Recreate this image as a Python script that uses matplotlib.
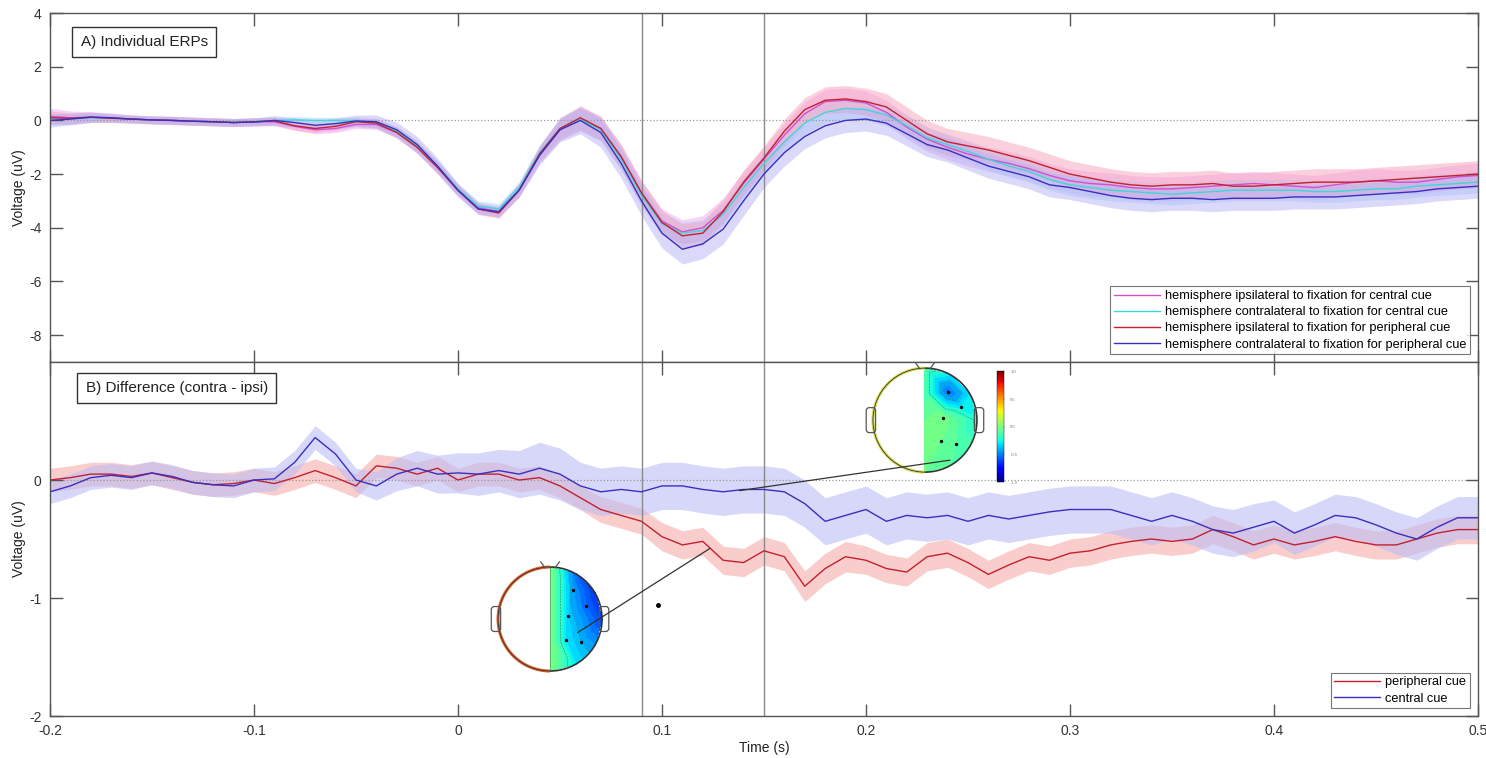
import matplotlib
matplotlib.use("Agg")
import matplotlib.pyplot as plt
import matplotlib.tri as mtri
import numpy as np
from matplotlib.patches import ConnectionPatch, FancyBboxPatch, Arc, Circle
from matplotlib.colors import Normalize

plt.rcParams["font.family"] = ["Liberation Sans", "DejaVu Sans"]
plt.rcParams["axes.unicode_minus"] = False

# time axis, 10 ms steps from -0.2 s to 0.5 s
time_s = np.round(np.arange(-0.2, 0.5001, 0.01), 2)

# A) individual ERPs (uV)
ipsi_central = [0.15, 0.1, 0.12, 0.1, 0.05, 0.02, 0.0, -0.03, -0.05, -0.08,
                -0.05, -0.05, -0.22, -0.35, -0.3, -0.15, -0.15, -0.45, -1.0, -1.75,
                -2.6, -3.25, -3.4, -2.6, -1.3, -0.35, 0.05, -0.3, -1.35, -2.7,
                -3.75, -4.15, -4.0, -3.35, -2.35, -1.45, -0.55, 0.25, 0.7, 0.75,
                0.65, 0.3, -0.25, -0.7, -1.0, -1.25, -1.45, -1.6, -1.8, -2.05,
                -2.25, -2.35, -2.4, -2.5, -2.55, -2.55, -2.5, -2.45, -2.4, -2.35,
                -2.4, -2.45, -2.5, -2.4, -2.3, -2.25, -2.3, -2.3, -2.2, -2.1, -2.05]
contra_central = [0.05, 0.05, 0.1, 0.08, 0.05, 0.02, 0.0, -0.02, -0.05, -0.06,
                  -0.04, 0.0, 0.02, 0.0, 0.0, 0.0, -0.1, -0.4, -0.95, -1.7,
                  -2.55, -3.2, -3.3, -2.5, -1.2, -0.3, 0.05, -0.35, -1.45, -2.8,
                  -3.85, -4.2, -4.1, -3.5, -2.5, -1.6, -0.8, -0.1, 0.3, 0.45,
                  0.4, 0.2, -0.2, -0.65, -0.9, -1.15, -1.45, -1.7, -1.9, -2.2,
                  -2.4, -2.5, -2.6, -2.65, -2.7, -2.75, -2.7, -2.65, -2.6, -2.6,
                  -2.6, -2.6, -2.65, -2.65, -2.6, -2.55, -2.55, -2.45, -2.4, -2.35, -2.3]
ipsi_peripheral = [0.1, 0.08, 0.12, 0.08, 0.05, 0.02, 0.0, -0.03, -0.05, -0.08,
                   -0.05, -0.02, -0.2, -0.3, -0.22, -0.05, -0.1, -0.45, -1.0, -1.75,
                   -2.6, -3.3, -3.45, -2.6, -1.25, -0.3, 0.1, -0.3, -1.35, -2.7,
                   -3.8, -4.3, -4.2, -3.4, -2.3, -1.4, -0.4, 0.4, 0.75, 0.8,
                   0.7, 0.5, 0.0, -0.5, -0.8, -0.95, -1.1, -1.3, -1.5, -1.75,
                   -2.0, -2.15, -2.3, -2.4, -2.45, -2.4, -2.4, -2.35, -2.45, -2.45,
                   -2.4, -2.35, -2.3, -2.3, -2.3, -2.25, -2.2, -2.15, -2.1, -2.05, -2.0]
contra_peripheral = [0.0, 0.05, 0.12, 0.1, 0.05, 0.02, 0.0, -0.03, -0.05, -0.08,
                     -0.06, 0.0, -0.08, -0.18, -0.12, -0.02, -0.05, -0.35, -0.9, -1.7,
                     -2.6, -3.3, -3.4, -2.6, -1.3, -0.35, 0.0, -0.45, -1.6, -3.0,
                     -4.2, -4.8, -4.6, -4.05, -3.0, -2.0, -1.2, -0.6, -0.2, 0.0,
                     0.05, -0.1, -0.5, -0.9, -1.1, -1.4, -1.7, -1.9, -2.1, -2.4,
                     -2.5, -2.65, -2.8, -2.9, -2.95, -2.9, -2.9, -2.95, -2.9, -2.9,
                     -2.9, -2.85, -2.85, -2.85, -2.8, -2.75, -2.7, -2.65, -2.55, -2.5, -2.45]

sem_ipsi_central = [0.3, 0.25, 0.2, 0.15, 0.15, 0.15, 0.15, 0.15, 0.15, 0.15,
                    0.15, 0.15, 0.15, 0.15, 0.15, 0.15, 0.18, 0.2, 0.22, 0.22,
                    0.2, 0.2, 0.2, 0.25, 0.3, 0.4, 0.45, 0.45, 0.45, 0.45,
                    0.45, 0.45, 0.45, 0.45, 0.45, 0.45, 0.45, 0.45, 0.45, 0.45,
                    0.45, 0.45, 0.45, 0.45, 0.45, 0.45, 0.45, 0.45, 0.45, 0.45,
                    0.45, 0.45, 0.45, 0.45, 0.45, 0.45, 0.45, 0.45, 0.45, 0.45,
                    0.45, 0.45, 0.45, 0.45, 0.45, 0.45, 0.45, 0.45, 0.45, 0.45, 0.45]
sem_contra_central = [0.2, 0.18, 0.15, 0.12, 0.12, 0.12, 0.12, 0.12, 0.12, 0.12,
                      0.12, 0.12, 0.12, 0.12, 0.12, 0.12, 0.15, 0.18, 0.2, 0.2,
                      0.2, 0.2, 0.2, 0.22, 0.28, 0.35, 0.4, 0.4, 0.4, 0.4,
                      0.4, 0.4, 0.4, 0.4, 0.4, 0.4, 0.4, 0.4, 0.4, 0.4,
                      0.4, 0.4, 0.4, 0.4, 0.4, 0.4, 0.4, 0.4, 0.4, 0.4,
                      0.4, 0.4, 0.4, 0.4, 0.4, 0.4, 0.4, 0.4, 0.4, 0.4,
                      0.4, 0.4, 0.4, 0.4, 0.4, 0.4, 0.4, 0.4, 0.4, 0.4, 0.4]
sem_ipsi_peripheral = [0.25, 0.2, 0.18, 0.15, 0.15, 0.15, 0.15, 0.15, 0.15, 0.15,
                       0.15, 0.15, 0.15, 0.15, 0.15, 0.15, 0.18, 0.2, 0.22, 0.22,
                       0.2, 0.2, 0.2, 0.25, 0.3, 0.4, 0.45, 0.45, 0.45, 0.45,
                       0.45, 0.45, 0.45, 0.45, 0.45, 0.45, 0.45, 0.45, 0.5, 0.5,
                       0.5, 0.5, 0.5, 0.5, 0.5, 0.5, 0.5, 0.5, 0.5, 0.5,
                       0.5, 0.5, 0.5, 0.5, 0.5, 0.5, 0.5, 0.5, 0.5, 0.5,
                       0.5, 0.5, 0.5, 0.5, 0.5, 0.5, 0.5, 0.5, 0.5, 0.5, 0.5]
sem_contra_peripheral = [0.25, 0.22, 0.2, 0.18, 0.15, 0.15, 0.15, 0.15, 0.15, 0.15,
                         0.15, 0.18, 0.18, 0.18, 0.2, 0.22, 0.25, 0.28, 0.3, 0.3,
                         0.25, 0.2, 0.2, 0.25, 0.35, 0.45, 0.5, 0.55, 0.55, 0.55,
                         0.55, 0.55, 0.55, 0.55, 0.55, 0.5, 0.5, 0.45, 0.45, 0.45,
                         0.45, 0.45, 0.45, 0.45, 0.45, 0.45, 0.45, 0.45, 0.45, 0.45,
                         0.45, 0.45, 0.45, 0.45, 0.45, 0.45, 0.45, 0.45, 0.45, 0.45,
                         0.45, 0.45, 0.45, 0.45, 0.45, 0.45, 0.45, 0.45, 0.45, 0.45, 0.45]

# B) difference waves (contra - ipsi), uV
diff_peripheral = [0.0, 0.02, 0.05, 0.05, 0.03, 0.06, 0.02, -0.02, -0.04, -0.03,
                   0.0, -0.03, 0.02, 0.08, 0.02, -0.05, 0.12, 0.1, 0.05, 0.1,
                   0.0, 0.05, 0.05, 0.0, 0.02, -0.05, -0.15, -0.25, -0.3, -0.35,
                   -0.48, -0.55, -0.52, -0.68, -0.7, -0.6, -0.65, -0.9, -0.75, -0.65,
                   -0.68, -0.75, -0.78, -0.65, -0.62, -0.7, -0.8, -0.72, -0.65, -0.68,
                   -0.62, -0.6, -0.55, -0.52, -0.5, -0.52, -0.5, -0.42, -0.48, -0.55,
                   -0.5, -0.55, -0.52, -0.48, -0.52, -0.55, -0.55, -0.5, -0.45, -0.42, -0.42]
diff_central = [-0.1, -0.05, 0.02, 0.04, 0.02, 0.06, 0.03, -0.02, -0.04, -0.05,
                0.0, 0.01, 0.15, 0.36, 0.22, 0.0, -0.05, 0.05, 0.1, 0.05,
                0.06, 0.05, 0.08, 0.05, 0.1, 0.05, -0.05, -0.1, -0.08, -0.1,
                -0.05, -0.05, -0.08, -0.1, -0.08, -0.08, -0.1, -0.2, -0.35, -0.3,
                -0.25, -0.35, -0.3, -0.32, -0.3, -0.35, -0.3, -0.33, -0.3, -0.27,
                -0.25, -0.25, -0.25, -0.3, -0.35, -0.3, -0.35, -0.42, -0.45, -0.4,
                -0.35, -0.45, -0.38, -0.3, -0.32, -0.38, -0.45, -0.5, -0.4, -0.32, -0.32]
sem_diff_peripheral = [0.1, 0.1, 0.1, 0.1, 0.1, 0.1, 0.1, 0.1, 0.1, 0.1,
                       0.1, 0.1, 0.1, 0.1, 0.1, 0.1, 0.1, 0.1, 0.1, 0.1,
                       0.1, 0.1, 0.1, 0.1, 0.1, 0.1, 0.1, 0.11, 0.11, 0.11,
                       0.12, 0.12, 0.12, 0.12, 0.12, 0.12, 0.12, 0.13, 0.13, 0.13,
                       0.12, 0.12, 0.12, 0.12, 0.12, 0.12, 0.12, 0.12, 0.12, 0.12,
                       0.12, 0.12, 0.12, 0.12, 0.12, 0.12, 0.12, 0.12, 0.12, 0.12,
                       0.12, 0.12, 0.12, 0.12, 0.12, 0.12, 0.12, 0.12, 0.12, 0.12, 0.12]
sem_diff_central = [0.1, 0.1, 0.1, 0.1, 0.1, 0.1, 0.1, 0.1, 0.1, 0.1,
                    0.1, 0.1, 0.1, 0.1, 0.1, 0.1, 0.12, 0.14, 0.15, 0.16,
                    0.17, 0.18, 0.18, 0.2, 0.22, 0.22, 0.2, 0.2, 0.2, 0.2,
                    0.2, 0.2, 0.2, 0.2, 0.2, 0.2, 0.2, 0.2, 0.2, 0.2,
                    0.2, 0.2, 0.2, 0.2, 0.2, 0.2, 0.2, 0.2, 0.2, 0.2,
                    0.2, 0.2, 0.2, 0.2, 0.2, 0.2, 0.2, 0.2, 0.2, 0.2,
                    0.18, 0.18, 0.18, 0.18, 0.18, 0.18, 0.18, 0.18, 0.18, 0.18, 0.18]

top_labels = ["hemisphere ipsilateral to fixation for central cue",
              "hemisphere contralateral to fixation for central cue",
              "hemisphere ipsilateral to fixation for peripheral cue",
              "hemisphere contralateral to fixation for peripheral cue"]
bottom_labels = ["peripheral cue", "central cue"]
window_lines = [0.09, 0.15]

# topomap electrodes (right hemisphere shown), values in uV
elec_x = [0.0, 0.0, 0.0, 0.0, 0.0, 0.5, 0.87, 1.0, 0.87, 0.5, 0.45, 0.7, 0.35, 0.3, 0.6]
elec_y = [1.0, 0.5, 0.0, -0.5, -1.0, 0.87, 0.5, 0.0, -0.5, -0.87, 0.55, 0.25, 0.05, -0.4, -0.45]
topo_late = [-0.12, -0.12, -0.05, -0.02, -0.05, -0.3, -0.3, -0.22, -0.12, -0.1, -0.55, -0.3, -0.02, -0.05, -0.1]
topo_early = [0.0, 0.0, 0.0, 0.0, 0.0, -0.55, -0.65, -0.62, -0.45, -0.3, -0.45, -0.55, -0.35, -0.3, -0.4]

GRID = "#555555"
fig = plt.figure(figsize=(14.86, 7.58), dpi=100)
ax1 = fig.add_axes([0.0336, 0.5224, 0.961, 0.4604])
ax2 = fig.add_axes([0.0336, 0.0554, 0.961, 0.467])

t = time_s
top_series = [
    (ipsi_central, sem_ipsi_central, "#d24fd2", "#f0a6f0"),
    (contra_central, sem_contra_central, "#3fd6d6", "#a6d4fb"),
    (ipsi_peripheral, sem_ipsi_peripheral, "#c4202e", "#f9a3bd"),
    (contra_peripheral, sem_contra_peripheral, "#3a2fc0", "#b7b4f6"),
]
for vals, sem, lc, fc in top_series:
    v = np.array(vals)
    s = np.array(sem)
    ax1.fill_between(t, v - s, v + s, color=fc, alpha=0.5, linewidth=0)
handles = []
for (vals, sem, lc, fc), lab in zip(top_series, top_labels):
    h, = ax1.plot(t, vals, color=lc, linewidth=1.0, label=lab)
    handles.append(h)

bottom_series = [
    (diff_peripheral, sem_diff_peripheral, "#c4202e", "#f7adad"),
    (diff_central, sem_diff_central, "#3a2fc0", "#bdbdf5"),
]
for vals, sem, lc, fc in bottom_series:
    v = np.array(vals)
    s = np.array(sem)
    ax2.fill_between(t, v - s, v + s, color=fc, alpha=0.6, linewidth=0)
for (vals, sem, lc, fc), lab in zip(bottom_series, bottom_labels):
    ax2.plot(t, vals, color=lc, linewidth=1.0, label=lab)

for ax in (ax1, ax2):
    ax.axhline(0, color="#999999", linestyle=":", linewidth=0.9, zorder=1)
    for wl in window_lines:
        ax.axvline(wl, color="#8a8a8a", linewidth=1.0, zorder=1)
    ax.set_xlim(-0.2, 0.5)
    ax.set_xticks([-0.2, -0.1, 0, 0.1, 0.2, 0.3, 0.4, 0.5])
    ax.tick_params(direction="in", top=True, right=True, length=9, width=1,
                   color=GRID, labelsize=10, labelcolor="#333333", pad=6)
    for sp in ax.spines.values():
        sp.set_color(GRID)
        sp.set_linewidth(1)
    ax.set_ylabel("Voltage (uV)", fontsize=10, color="#222222")

ax1.set_ylim(-9, 4)
ax1.set_yticks([-8, -6, -4, -2, 0, 2, 4])
ax1.tick_params(labelbottom=False)
ax1.yaxis.set_label_coords(-0.0165, 0.5)
ax2.set_ylim(-2, 1)
ax2.set_yticks([-2, -1, 0])
ax2.set_xticklabels(["-0.2", "-0.1", "0", "0.1", "0.2", "0.3", "0.4", "0.5"])
ax2.yaxis.set_label_coords(-0.0165, 0.5)
ax2.set_xlabel("Time (s)", fontsize=10, color="#222222", labelpad=2)

box = dict(boxstyle="square,pad=0.55", facecolor="white", edgecolor="#333333", linewidth=1)
ax1.text(0.0215, 0.917, "A) Individual ERPs", transform=ax1.transAxes, fontsize=11,
         va="center", ha="left", bbox=box, color="#222222")
ax2.text(0.025, 0.9266, "B) Difference (contra - ipsi)", transform=ax2.transAxes, fontsize=11,
         va="center", ha="left", bbox=box, color="#222222")

leg_kw = dict(fontsize=9.2, frameon=True, fancybox=False, edgecolor="#555555",
              handlelength=3.6, handletextpad=0.4, borderpad=0.3, labelspacing=0.32,
              borderaxespad=0.6)
lg1 = ax1.legend(handles=handles, loc="lower right", **leg_kw)
lg1.get_frame().set_linewidth(0.8)
lg2 = ax2.legend(loc="lower right", **leg_kw)
lg2.get_frame().set_linewidth(0.8)

# scalp maps
norm = Normalize(-1, 1)
tri = mtri.Triangulation(elec_x, elec_y)


def draw_topomap(rect, values, rim_color):
    tax = fig.add_axes(rect)
    tax.set_xlim(-1.25, 1.25)
    tax.set_ylim(-1.25, 1.25)
    tax.set_aspect("equal")
    tax.set_axis_off()
    tax.add_patch(Circle((0, 0), 1.0, facecolor="white", edgecolor="none"))
    tax.tricontourf(tri, values, levels=np.linspace(-1, 1, 41), cmap="jet", norm=norm)
    tax.tricontour(tri, values, levels=np.linspace(-1, 1, 11), colors="#333333",
                   linewidths=0.4, alpha=0.6)
    tax.add_patch(Arc((0, 0), 2.0, 2.0, theta1=90, theta2=270, color=rim_color, linewidth=2.2))
    tax.add_patch(Arc((0, 0), 2.0, 2.0, theta1=90, theta2=270, color="#333333", linewidth=0.6))
    tax.add_patch(Arc((0, 0), 2.0, 2.0, theta1=-90, theta2=90, color="#333333", linewidth=1.2))
    for side in (-1, 1):
        tax.add_patch(FancyBboxPatch((side * 1.04 - 0.07, -0.22), 0.14, 0.44,
                                     boxstyle="round,pad=0.02,rounding_size=0.06",
                                     facecolor="none", edgecolor="#555555", linewidth=0.9))
    tax.plot([-0.18, -0.1], [1.1, 0.99], color="#555555", linewidth=0.9)
    tax.plot([0.18, 0.1], [1.1, 0.99], color="#555555", linewidth=0.9)
    tax.scatter(elec_x[10:], elec_y[10:], s=2, color="black", zorder=5)
    return tax


topo_up = draw_topomap([0.5787, 0.360, 0.0875, 0.1715], topo_late, "#d8dc55")
topo_low = draw_topomap([0.3264, 0.0976, 0.0875, 0.1715], topo_early, "#e0602a")

cax = fig.add_axes([0.671, 0.364, 0.0047, 0.146])
cb = fig.colorbar(plt.cm.ScalarMappable(norm=norm, cmap="jet"), cax=cax)
cb.set_ticks([-1, -0.5, 0, 0.5, 1])
cb.ax.tick_params(labelsize=3, length=1, width=0.3, colors="#777777")
cb.outline.set_linewidth(0.3)

# lines linking the time windows to the maps
con1 = ConnectionPatch(xyA=(0.138, -0.09), coordsA=ax2.transData,
                       xyB=(0.48, -0.77), coordsB=topo_up.transData,
                       color="#333333", linewidth=0.9)
con2 = ConnectionPatch(xyA=(0.1235, -0.58), coordsA=ax2.transData,
                       xyB=(0.53, -0.26), coordsB=topo_low.transData,
                       color="#333333", linewidth=0.9)
fig.add_artist(con1)
fig.add_artist(con2)
ax2.plot([0.098], [-1.06], marker="o", markersize=2.5, color="black")

fig.savefig("out.png", dpi=100)
